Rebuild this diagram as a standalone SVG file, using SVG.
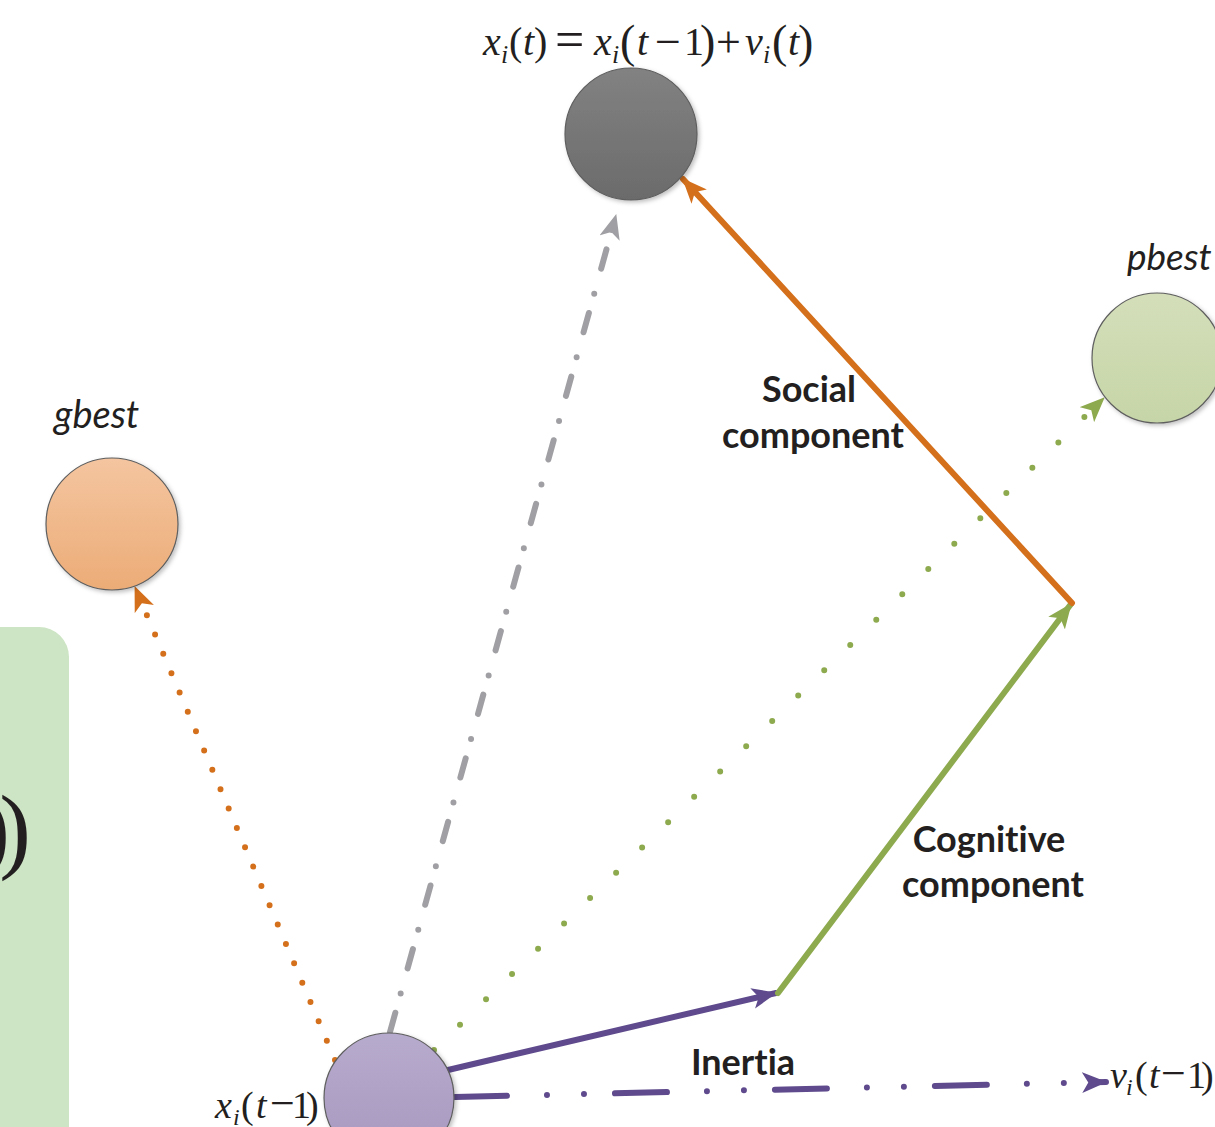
<svg xmlns="http://www.w3.org/2000/svg" width="1215" height="1127" viewBox="0 0 1215 1127">
  <style>
    .node { stroke: #5e5e5e; stroke-width: 1.2; filter: url(#shadow); }
    .lbl { font-family: Lato, "Open Sans", sans-serif; font-weight: bold; font-size: 36px; fill: #231f20; text-anchor: middle; font-variant-ligatures: none; }
    .ital { font-family: Lato, "Open Sans", sans-serif; font-style: italic; fill: #231f20; font-variant-ligatures: none; }
    .math { font-family: "Liberation Serif", "Times New Roman", serif; fill: #231f20; }
    .mi { font-style: italic; }
    .line { fill: none; stroke-width: 6; stroke-linecap: round; }
  </style>
  <defs>
    <filter id="shadow" x="-20%" y="-20%" width="140%" height="140%">
      <feDropShadow dx="2" dy="2" stdDeviation="2" flood-color="#000" flood-opacity="0.25"/>
    </filter>
    <linearGradient id="gDark" x1="0" y1="0" x2="0" y2="1"><stop offset="0" stop-color="#828282"/><stop offset="1" stop-color="#6b6b6b"/></linearGradient>
    <linearGradient id="gGreen" x1="0" y1="0" x2="0" y2="1"><stop offset="0" stop-color="#d4dfba"/><stop offset="1" stop-color="#c6d5a7"/></linearGradient>
    <linearGradient id="gOrange" x1="0" y1="0" x2="0" y2="1"><stop offset="0" stop-color="#f4c5a0"/><stop offset="1" stop-color="#ecac77"/></linearGradient>
    <linearGradient id="gPurple" x1="0" y1="0" x2="0" y2="1"><stop offset="0" stop-color="#b7abcd"/><stop offset="1" stop-color="#a797bf"/></linearGradient>
    <marker id="aOrange" viewBox="0 0 24 20" refX="23" refY="10" markerWidth="25" markerHeight="21" markerUnits="userSpaceOnUse" orient="auto"><path d="M0,0 L24,10 L0,20 L6,10 z" fill="#d4701c"/></marker>
    <marker id="aGreen" viewBox="0 0 24 20" refX="23" refY="10" markerWidth="25" markerHeight="21" markerUnits="userSpaceOnUse" orient="auto"><path d="M0,0 L24,10 L0,20 L6,10 z" fill="#8eaa4e"/></marker>
    <marker id="aGray" viewBox="0 0 24 20" refX="23" refY="10" markerWidth="25" markerHeight="21" markerUnits="userSpaceOnUse" orient="auto"><path d="M0,0 L24,10 L0,20 L6,10 z" fill="#a0a0a4"/></marker>
    <marker id="aPurple" viewBox="0 0 24 20" refX="23" refY="10" markerWidth="25" markerHeight="21" markerUnits="userSpaceOnUse" orient="auto"><path d="M0,0 L24,10 L0,20 L6,10 z" fill="#5e4a8c"/></marker>
  </defs>

  <rect x="0" y="0" width="1215" height="1127" fill="#ffffff"/>

  <!-- partially visible formula panel -->
  <g id="panel">
    <rect x="-40" y="627" width="109" height="560" rx="30" ry="30" fill="#cde5c4"/>
    <text class="math" style="font-size:95px" x="10" y="861" text-anchor="end">)</text>
    <text class="math" style="font-size:95px" x="31" y="861" text-anchor="end">)</text>
  </g>

  <!-- connectors -->
  <g id="connectors">
    <path class="line" d="M335,1060 L135,587" stroke="#d4701c" stroke-width="7" stroke-dasharray="0 21" marker-end="url(#aOrange)"/>
    <path class="line" d="M434,1050 L1104,398" stroke="#8eaa4e" stroke-width="7" stroke-dasharray="0 36.3" marker-end="url(#aGreen)"/>
    <path class="line" d="M390,1032 L616,215" stroke="#a0a0a4" stroke-width="6.5" stroke-dasharray="20 20 0 26" marker-end="url(#aGray)"/>
    <path class="line" d="M455,1097 L1106,1082" stroke="#5e4a8c" stroke-width="7" stroke-dasharray="52 40 0 37 0 31" marker-end="url(#aPurple)"/>
    <path class="line" d="M448,1070 L776,993" stroke="#5e4a8c" marker-end="url(#aPurple)"/>
    <path class="line" d="M778,993 L1071,604" stroke="#8eaa4e" marker-end="url(#aGreen)"/>
    <path class="line" d="M1072,603 L683,179" stroke="#d4701c" marker-end="url(#aOrange)"/>
  </g>

  <!-- nodes -->
  <g id="node-xt">
    <circle class="node" cx="631" cy="134" r="66" fill="url(#gDark)"/>
    <text class="math" style="font-size:40px" y="55">
      <tspan x="483" class="mi">x</tspan><tspan x="501" y="63" class="mi" font-size="26">i</tspan><tspan x="509" y="55">(</tspan><tspan x="523" class="mi">t</tspan><tspan x="534">)</tspan><tspan x="555" y="57" font-size="52">=</tspan><tspan x="594" y="55" class="mi">x</tspan><tspan x="612" y="63" class="mi" font-size="26">i</tspan><tspan x="620" y="57" font-size="46">(</tspan><tspan x="637" y="55" class="mi">t</tspan><tspan x="655" y="57" font-size="46">−</tspan><tspan x="684" y="55">1</tspan><tspan x="700" y="57" font-size="46">)</tspan><tspan x="716" y="57" font-size="44">+</tspan><tspan x="745" y="55" class="mi">v</tspan><tspan x="763" y="63" class="mi" font-size="26">i</tspan><tspan x="772" y="57" font-size="46">(</tspan><tspan x="788" y="55" class="mi">t</tspan><tspan x="798" y="57" font-size="46">)</tspan>
    </text>
  </g>

  <g id="node-pbest">
    <circle class="node" cx="1157" cy="358" r="65" fill="url(#gGreen)"/>
    <text class="ital" style="font-size:37px" x="1127" y="270">pbest<tspan font-size="24" dx="3" dy="8">i</tspan></text>
  </g>

  <g id="node-gbest">
    <circle class="node" cx="112" cy="524" r="66" fill="url(#gOrange)"/>
    <text class="ital" style="font-size:38px" x="54" y="428">gbest</text>
  </g>

  <g id="node-xprev">
    <circle class="node" cx="389" cy="1098" r="65" fill="url(#gPurple)"/>
    <text class="math" style="font-size:38px" y="1118"><tspan x="215" class="mi">x</tspan><tspan x="233" y="1125" class="mi" font-size="24">i</tspan><tspan x="241" y="1118">(</tspan><tspan x="256" class="mi">t</tspan><tspan x="270" font-size="44">−</tspan><tspan x="292">1</tspan><tspan x="306">)</tspan></text>
  </g>

  <g id="node-vprev">
    <text class="math" style="font-size:38px" y="1088"><tspan x="1110" class="mi">v</tspan><tspan x="1126" y="1095" class="mi" font-size="24">i</tspan><tspan x="1135" y="1088">(</tspan><tspan x="1149" class="mi">t</tspan><tspan x="1161" font-size="44">−</tspan><tspan x="1187">1</tspan><tspan x="1201">)</tspan></text>
  </g>

  <!-- edge labels -->
  <g id="labels">
    <text class="lbl" x="809" y="402">Social</text>
    <text class="lbl" x="813" y="448">component</text>
    <text class="lbl" x="989" y="852">Cognitive</text>
    <text class="lbl" x="993" y="897">component</text>
    <text class="lbl" x="743" y="1075">Inertia</text>
  </g>
</svg>
